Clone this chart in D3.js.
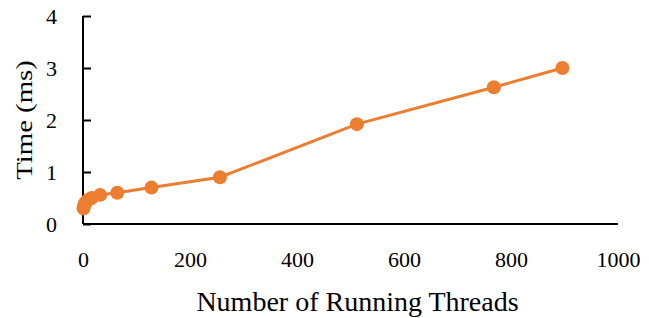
<!DOCTYPE html>
<html>
<head>
<meta charset="utf-8">
<script src="https://cdn.jsdelivr.net/npm/d3@7"></script>
<style>
  body { margin: 0; background: #fff; }
  text { font-family: "Liberation Serif", "Times New Roman", serif; fill: #000; }
</style>
</head>
<body>
<div id="chart"></div>
<script>
// data
var threads = [1, 2, 4, 8, 16, 32, 64, 128, 256, 512, 768, 896];
var timeMs  = [0.3, 0.35, 0.4, 0.45, 0.5, 0.56, 0.6, 0.7, 0.9, 1.92, 2.63, 3.0];
var xTicks = [0, 200, 400, 600, 800, 1000];
var yTicks = [0, 1, 2, 3, 4];

var width = 649, height = 318;
var margin = {left: 83, right: 31, top: 16, bottom: 94};

var svg = d3.select("#chart")
    .append("svg")
    .attr("width", width)
    .attr("height", height)

var x = d3.scaleLinear().domain([0, 1000]).range([margin.left, width - margin.right]);
var y = d3.scaleLinear().domain([0, 4]).range([height - margin.bottom, margin.top]);

// y axis, ticks pointing inwards
var yAxis = svg.append("g")
    .attr("transform", "translate(" + margin.left + ",0)")
    .call(d3.axisLeft(y).tickValues(yTicks).tickSize(-8).tickPadding(26).tickFormat(d3.format("d")));
yAxis.select(".domain").attr("stroke", "#000").attr("stroke-width", 2)
    .attr("d", "M0," + y(4) + "V" + y(0));
yAxis.selectAll(".tick line").attr("stroke", "#000").attr("stroke-width", 2);
yAxis.selectAll(".tick text").attr("font-size", 22).attr("dy", "0.35em");

// x axis, no tick marks
var xAxis = svg.append("g")
    .attr("transform", "translate(0," + y(0) + ")")
    .call(d3.axisBottom(x).tickValues(xTicks).tickSize(0).tickPadding(43).tickFormat(d3.format("d")));
xAxis.select(".domain").attr("stroke", "#000").attr("stroke-width", 2)
    .attr("d", "M" + x(0) + ",0H" + x(1000));
xAxis.selectAll(".tick text").attr("font-size", 22).attr("dy", "0");

// axis titles
svg.append("text")
    .attr("x", (x(0) + x(1000)) / 2 + 7)
    .attr("y", 311)
    .attr("text-anchor", "middle")
    .attr("font-size", 28)
    .text("Number of Running Threads");

svg.append("text")
    .attr("transform", "translate(32,120) rotate(-90) scale(1.25,1)")
    .attr("text-anchor", "middle")
    .attr("font-size", 23)
    .text("Time (ms)");

// series
var pts = threads.map(function(t, i) { return [t, timeMs[i]]; });
var color = "#ED7D31";

svg.append("path")
    .datum(pts)
    .attr("fill", "none")
    .attr("stroke", color)
    .attr("stroke-width", 3)
    .attr("d", d3.line().x(function(d) { return x(d[0]); }).y(function(d) { return y(d[1]); }));

svg.selectAll("circle.pt")
    .data(pts)
    .enter()
    .append("circle")
    .attr("class", "pt")
    .attr("cx", function(d) { return x(d[0]); })
    .attr("cy", function(d) { return y(d[1]); })
    .attr("r", 7)
    .attr("fill", color);
</script>
</body>
</html>
